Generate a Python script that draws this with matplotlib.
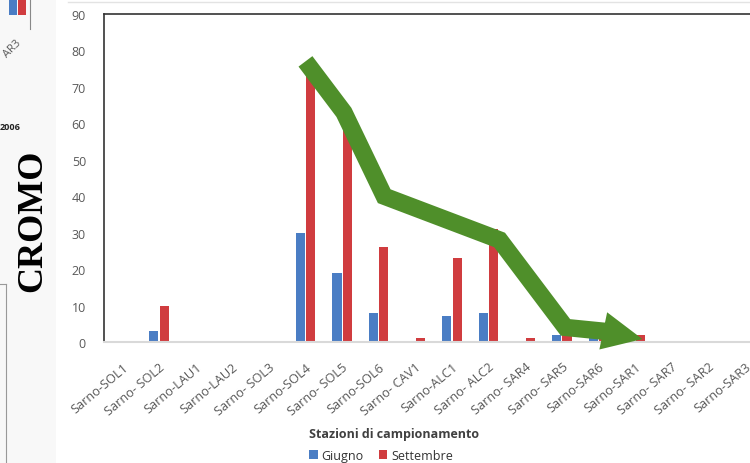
import numpy as np
import matplotlib.pyplot as plt
from matplotlib.patches import Rectangle, Polygon
from matplotlib.lines import Line2D
from matplotlib.transforms import IdentityTransform

stations = ["Sarno-SOL1", "Sarno- SOL2", "Sarno-LAU1", "Sarno-LAU2", "Sarno- SOL3",
            "Sarno-SOL4", "Sarno- SOL5", "Sarno-SOL6", "Sarno- CAV1", "Sarno-ALC1",
            "Sarno- ALC2", "Sarno- SAR4", "Sarno- SAR5", "Sarno-SAR6", "Sarno-SAR1",
            "Sarno- SAR7", "Sarno- SAR2", "Sarno-SAR3"]
giugno = [0, 3, 0, 0, 0, 30, 19, 8, 0, 7, 8, 0, 2, 1.5, 0, 0, 0, 0]
settembre = [0, 10, 0, 0, 0, 76, 62, 26, 1, 23, 31, 1, 2, 1, 2, 0, 0, 0]
yticks = [0, 10, 20, 30, 40, 50, 60, 70, 80, 90]

# trend arrow drawn over the bars (category index, value)
trend_x = [5.0, 6.05, 7.15, 10.3, 12.1, 13.2]
trend_y = [77, 63, 40, 28, 4, 2.9]
arrow_tip = (14.2, 0.8)

blue = '#4a7dc4'
red = '#d03c3f'
green = '#4f8f2a'
grey = '#595959'

plt.rcParams['font.family'] = ['Open Sans', 'DejaVu Sans']
fig = plt.figure(figsize=(7.5, 4.64), dpi=100)

# leftover pieces of the neighbouring chart on the left
fig.patches.append(Rectangle((0, 0), 0.075, 1, transform=fig.transFigure,
                             facecolor='#f8f8f8', edgecolor='none', zorder=0))
fig.add_artist(Line2D([0.008, 0.008], [0, 0.385], color='#999999', lw=0.8))
fig.add_artist(Line2D([0, 0.008], [0.385, 0.385], color='#999999', lw=0.8))
fig.add_artist(Line2D([0.04, 0.04], [0.935, 1.0], color='#888888', lw=0.8))
fig.patches.append(Rectangle((0.012, 0.965), 0.01, 0.04, transform=fig.transFigure,
                             facecolor=blue, edgecolor='none'))
fig.patches.append(Rectangle((0.024, 0.965), 0.01, 0.04, transform=fig.transFigure,
                             facecolor=red, edgecolor='none'))
fig.text(0.016, 0.895, 'AR3', rotation=45, fontsize=8, color=grey, ha='center', va='center')
fig.text(0.0, 0.725, '2006', fontsize=6.5, color='#222222', fontweight='bold',
         ha='left', va='center')
fig.text(0.044, 0.525, 'CROMO', rotation=90, fontsize=26, fontweight='bold',
         family='Liberation Serif', color='black', ha='center', va='center')
fig.add_artist(Line2D([0.09, 1.0], [0.994, 0.994], color='#e3e3e3', lw=1))

ax = fig.add_axes([0.1387, 0.2608, 0.879, 0.7069])
x = np.arange(len(stations))
w = 0.25
ax.bar(x - 0.14, giugno, width=w, color=blue, label='Giugno', zorder=2)
ax.bar(x + 0.14, settembre, width=w, color=red, label='Settembre', zorder=2)

ax.set_xlim(-0.5, 17.5)
ax.set_ylim(0, 90)

# green trend arrow: thick line + triangular head (head built in pixels)
ax.plot(trend_x, trend_y, color=green, lw=12.5, solid_joinstyle='miter',
        solid_capstyle='butt', zorder=4, clip_on=False)
tip = ax.transData.transform(arrow_tip)
start = ax.transData.transform((trend_x[-1], trend_y[-1]))
d = (tip - start) / np.hypot(*(tip - start))
n = np.array([-d[1], d[0]])
base = tip - d * 40
head = Polygon([tip, base + n * 19, base - n * 19], closed=True, facecolor=green,
               edgecolor='none', transform=IdentityTransform(), zorder=5)
ax.add_artist(head)
head.set_clip_on(False)

ax.set_yticks(yticks)
ax.set_xticks(x)
ax.set_xticklabels(stations, rotation=40, ha='right', rotation_mode='anchor')
ax.tick_params(axis='both', length=0, colors=grey)
ax.tick_params(axis='y', pad=13, labelsize=9)
ax.tick_params(axis='x', pad=13, labelsize=9.2)
for s in ['left', 'top']:
    ax.spines[s].set_color('#333333')
    ax.spines[s].set_linewidth(1.2)
ax.spines['right'].set_visible(False)
ax.spines['bottom'].set_color('#d9d9d9')
ax.spines['bottom'].set_linewidth(1.5)

ax.set_xlabel('Stazioni di campionamento', fontsize=9, fontweight='bold', color='#404040')
ax.xaxis.set_label_coords(0.44, -0.258)
ax.legend(loc='center', bbox_to_anchor=(0.42, -0.345), ncol=2, frameon=False,
          fontsize=9, handlelength=0.7, handleheight=0.7, handletextpad=0.3,
          columnspacing=1.2, labelcolor='#333333', borderpad=0)

fig.savefig('out.png', dpi=100)
